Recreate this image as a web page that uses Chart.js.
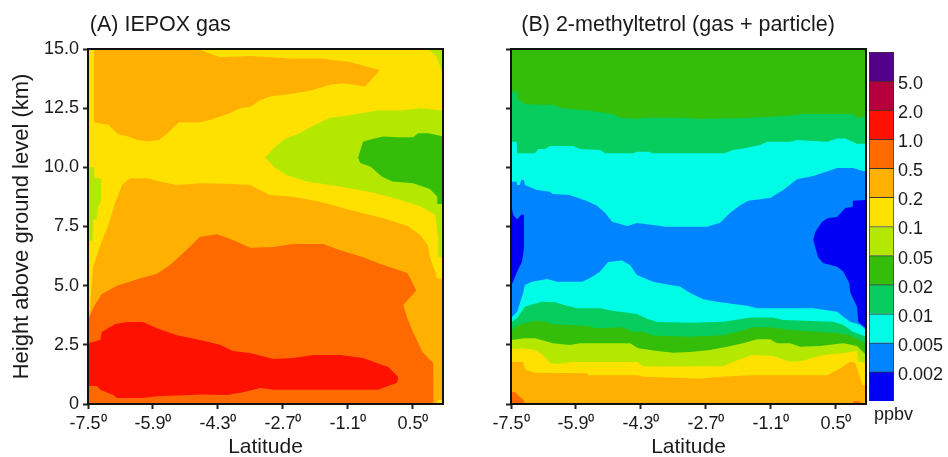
<!DOCTYPE html>
<html>
<head>
<meta charset="utf-8">
<script src="https://cdn.jsdelivr.net/npm/chart.js@4"></script>
<style>
  html, body { margin: 0; background: #fff; overflow: hidden; }
  canvas { position: absolute; top: 0; }
</style>
</head>
<body>
<canvas id="panel-a" width="470" height="460" style="left:0"></canvas>
<canvas id="panel-b" width="400" height="460" style="left:470px"></canvas>
<canvas id="color-bar" width="88" height="457" style="left:860px"></canvas>
<script>
// colour levels, bottom of the bar first
const levelLabels = ['0.002', '0.005', '0.01', '0.02', '0.05', '0.1', '0.2', '0.5', '1.0', '2.0', '5.0'];
const levelColors = ['#0000f5', '#0084ff', '#00fbe7', '#07cd5e', '#34be0a', '#b4e800', '#ffe100', '#ffb000', '#ff6a00', '#ff1100', '#b5003d', '#53008a'];
const [DBLUE, BLUE, CYAN, TEAL, GREEN, LIME, YELLOW, LORANGE, ORANGE, RED] = levelColors;

const latTicks = [-7.5, -5.9, -4.3, -2.7, -1.1, 0.5];
const heightTicks = [0, 2.5, 5, 7.5, 10, 12.5, 15];
const LAT_MIN = -7.5, LAT_MAX = 1.24;

// each curve is [latitude, height km]
const floorA = [[-7.5, 0], [1.24, 0]];
const ceilA = [[-7.5, 15], [1.24, 15]];

// (A) IEPOX gas
const topLobeUp = [[-7.35,15],[-4.79,15],[-4.25,14.65],[-3.51,14.7],[-2.52,14.6],[-1.79,14.6],[-1.05,14.45],[-0.31,14.1]];
const topLobeLow = [[-7.35,11.9],[-7,11.8],[-6.76,11.4],[-6.51,11.3],[-6.27,11.15],[-6,11.1],[-5.75,11.15],[-5.5,11.5],[-5.26,11.9],[-4.74,11.9],[-4.5,12],[-4.25,12.15],[-4,12.3],[-3.76,12.5],[-3.51,12.55],[-3.26,12.85],[-2.99,13],[-2.5,13.1],[-2.01,13.25],[-1.51,13.5],[-1.24,13.55],[-0.99,13.5],[-0.68,13.4],[-0.5,13.75],[-0.31,14.1]];
const cornerLimeUp = [[0.85,15],[1.24,15]];
const cornerLimeLow = [[0.85,15],[1.02,14.8],[1.1,14.6],[1.2,14.1],[1.24,14]];
const limeLobeUp = [[-3.14,10.4],[-2.89,10.87],[-2.65,11.2],[-2.28,11.45],[-1.91,11.8],[-1.54,12.1],[-1.05,12.2],[-0.38,12.4],[0.18,12.4],[0.68,12.5],[1.24,12.4]];
const limeLobeLow = [[-3.14,10.4],[-2.89,9.97],[-2.6,9.67],[-2.11,9.4],[-1.54,9.25],[-1.05,9.12],[-0.48,8.93],[0.11,8.66],[0.68,8.36],[0.92,8.12],[1.05,8],[1.12,7],[1.13,6.2],[1.24,6.2]];
const greenLobeUp = [[-0.85,10.4],[-0.73,11.08],[-0.5,11.2],[-0.23,11.3],[0.14,11.27],[0.5,11.27],[0.63,11.44],[0.87,11.44],[1.17,11.33],[1.24,11.3]];
const greenLobeLow = [[-0.85,10.4],[-0.8,10.18],[-0.55,10.03],[-0.26,9.6],[-0.01,9.4],[0.5,9.33],[0.92,9.08],[1.1,8.76],[1.11,8.45],[1.24,8.45]];
const leftLimeUp = [[-7.5,10],[-7.35,10],[-7.34,9.54],[-7.18,9.54]];
const leftLimeLow = [[-7.5,6.9],[-7.38,6.9],[-7.37,7.8],[-7.28,7.8],[-7.27,8.2],[-7.18,8.6]];
const midOrangeUp = [[-7.5,3.55],[-7.45,4],[-7.38,5.75],[-7.2,6.7],[-7,7.56],[-6.83,8.5],[-6.66,9.25],[-6.47,9.54],[-6.05,9.54],[-5.73,9.4],[-5.31,9.25],[-4.74,9.33],[-3.93,9.3],[-3.51,9.25],[-3.02,8.83],[-2.45,8.76],[-1.79,8.55],[-1.05,8.2],[-0.23,7.85],[0.36,7.53],[0.68,7.14],[0.87,6.7],[0.92,6.2],[1,5.8],[1.1,5.3],[1.24,5.3]];
const deepOrangeUp = [[-7.5,3.55],[-7.38,4.05],[-7.25,4.4],[-7.16,4.65],[-6.79,5],[-6.22,5.3],[-5.8,5.5],[-5.48,5.87],[-5.16,6.37],[-4.74,7.07],[-4.32,7.17],[-3.93,6.93],[-3.51,6.6],[-2.94,6.63],[-2.45,6.76],[-1.71,6.76],[-1.29,6.5],[-0.73,6.2],[-0.23,5.87],[0.36,5.53],[0.48,5.15],[0.58,4.8],[0.585,2.75],[0.73,2.2],[1,1.73],[1.01,0.17]];
const deepOrangeLow = [[-7.5,0],[1.01,0]];
const notchUp = [[0.26,4.18],[0.58,4.8],[0.62,4.8]];
const notchLow = [[0.26,4.18],[0.36,3.63],[0.5,3.04],[0.585,2.75],[0.62,2.75]];
const redLobeUp = [[-7.5,2.57],[-7.2,2.7],[-7.16,3.04],[-6.83,3.38],[-6.54,3.46],[-6.15,3.46],[-5.8,3.2],[-5.31,2.9],[-4.74,2.7],[-4.25,2.5],[-3.93,2.24],[-3.51,2.15],[-2.94,1.9],[-2.45,1.94],[-1.96,2.07],[-1.29,2.07],[-0.73,1.94],[-0.11,1.56],[0.14,1.14]];
const redLobeLow = [[-7.5,0.76],[-7.28,0.76],[-7.2,0.6],[-6.88,0.38],[-6.79,0.25],[-6.15,0.25],[-5.8,0.33],[-4.67,0.4],[-4.08,0.38],[-3.68,0.5],[-3.26,0.68],[-2.94,0.6],[-0.36,0.6],[0.11,0.9],[0.14,1.14]];
const cornerYellowUp = [[1.1,0.17],[1.24,0.17]];
const cornerYellowLow = [[1.1,0],[1.24,0]];

// (B) 2-methyltetrol, upper edge of each band
const tealUp = [[-7.5,13.2],[-7.35,13.2],[-7.33,12.88],[-7.16,12.67],[-6.47,12.63],[-6.22,12.5],[-5.55,12.39],[-4.99,12.25],[-4.82,12.1],[-4.4,12.04],[-4.25,12.1],[-3.26,12.1],[-2.84,12.04],[-1.79,12.08],[-0.7,12.17],[-0.31,12.25],[0.92,12.25],[1.02,12.08],[1.24,12.17]];
const cyanUp = [[-7.5,11.08],[-7.36,11.08],[-7.35,10.6],[-6.91,10.6],[-6.83,10.77],[-6.66,10.77],[-6.54,10.9],[-5.97,10.9],[-5.8,10.77],[-5.31,10.73],[-5.18,10.6],[-4.5,10.6],[-4.4,10.66],[-4.08,10.66],[-4.03,10.6],[-2.25,10.6],[-2.03,10.73],[-1.79,10.8],[-1.37,10.94],[-1.19,11.08],[-0.63,11.08],[-0.46,11.15],[0.28,11.08],[0.53,11.22],[0.73,11.22],[1.02,11],[1.24,11]];
const blueUp = [[-7.5,9.39],[-7.36,9.39],[-7.35,9.25],[-7.28,9.25],[-7.25,9.46],[-7.18,9.46],[-7.16,9.25],[-6.86,9.04],[-6.54,8.97],[-6.47,8.87],[-6.05,8.83],[-5.63,8.58],[-5.38,8.38],[-5.18,8.07],[-5.01,7.7],[-4.64,7.52],[-4.4,7.65],[-4,7.56],[-3.71,7.49],[-2.67,7.49],[-2.35,7.66],[-2.11,8.07],[-1.86,8.4],[-1.66,8.59],[-1.12,8.7],[-0.8,9.04],[-0.46,9.5],[-0.06,9.63],[0.53,9.97],[0.92,9.97],[1.24,9.81]];
const leftDeepUp = [[-7.5,8.49],[-7.45,8],[-7.35,7.8],[-7.25,8],[-7.18,8]];
const leftDeepLow = [[-7.5,5],[-7.45,5.17],[-7.33,5.66],[-7.23,6],[-7.18,6.6]];
const rightDeepUp = [[-0.06,6.93],[-0.01,7.27],[0.16,7.7],[0.31,7.86],[0.53,7.9],[0.73,8.28],[0.91,8.32],[0.92,8.59],[1.24,8.62]];
const rightDeepLow = [[-0.06,6.93],[0.06,6.2],[0.18,5.96],[0.53,5.8],[0.68,5.6],[0.83,5.1],[0.85,4.73],[1.02,4.1],[1.05,3.47],[1.24,3.2]];
const lowCyanUp = [[-7.5,3.63],[-7.35,3.9],[-7.28,4.26],[-7.2,4.69],[-7.16,5.03],[-6.98,5.17],[-6.61,5.28],[-6.37,5.17],[-5.75,5.17],[-5.55,5.32],[-5.31,5.59],[-5.11,6],[-4.77,6.06],[-4.57,5.87],[-4.4,5.45],[-4,5.17],[-3.58,5.03],[-3.34,4.96],[-3.09,4.69],[-2.77,4.43],[-2.43,4.32],[-1.69,4.15],[-1.44,4.05],[-0.06,4.05],[0.53,3.9],[0.68,3.69],[0.85,3.48],[1.1,3.34],[1.24,3.13]];
const lowTealUp = [[-7.5,3.43],[-7.35,3.63],[-7.28,3.8],[-7.16,4.11],[-6.96,4.22],[-6.74,4.32],[-6.42,4.3],[-6.12,4.15],[-5.87,4.05],[-5.31,4.05],[-5.01,3.94],[-4.4,3.8],[-4.13,3.59],[-3.9,3.46],[-3.09,3.43],[-2.28,3.48],[-1.98,3.55],[-1.61,3.66],[-1.05,3.66],[-0.8,3.55],[0.43,3.48],[0.68,3.34],[0.92,3.05],[1.24,2.84]];
const lowGreenUp = [[-7.5,3.1],[-7.35,3.31],[-7.2,3.4],[-6.91,3.52],[-6.66,3.48],[-6.47,3.37],[-5.63,3.31],[-5.38,3.2],[-4.74,3.24],[-4.52,3.05],[-4.25,3.05],[-4,2.89],[-3.09,2.84],[-2.28,2.9],[-1.93,3.05],[-1.54,3.24],[-1.12,3.24],[-0.63,3.13],[0.53,3],[0.85,2.9],[1.17,2.63],[1.24,2.55]];
const lowLimeUp = [[-7.5,2.7],[-7.16,2.78],[-6.91,2.78],[-6.66,2.66],[-6.47,2.57],[-6.05,2.49],[-5.8,2.57],[-4.57,2.57],[-4.37,2.36],[-3.9,2.24],[-3.51,2.17],[-3.09,2.2],[-2.6,2.28],[-2.18,2.42],[-1.79,2.57],[-1.44,2.74],[-1.12,2.74],[-0.95,2.57],[-0.63,2.57],[-0.38,2.42],[0.11,2.45],[0.68,2.57],[1.02,2.45],[1.24,2.07]];
const yellowUp = [[-7.5,2.32],[-7.2,2.34],[-6.91,2.28],[-6.71,2.07],[-6.54,1.74],[-6.34,1.69],[-6,1.77],[-4.4,1.77],[-4.25,1.6],[-3.88,1.58],[-2.28,1.6],[-1.91,1.86],[-1.56,2.07],[-1.05,2.03],[-0.63,1.79],[-0.31,1.83],[0.18,2.07],[0.78,2.17],[1.02,2.25],[1.05,1.79],[1.24,1.73]];
const lightOrangeUp = [[-7.5,1.79],[-7.2,1.77],[-7.16,1.46],[-6.91,1.32],[-5.63,1.3],[-5.6,1.22],[-4.37,1.22],[-4.25,1.15],[-2.84,1.08],[-2.28,1.15],[-1.61,1.22],[0.28,1.22],[0.6,1.5],[0.85,1.79],[0.97,1.75],[1.1,1.08],[1.15,0.8],[1.24,0.8]];
const leftOrangeUp = [[-7.5,0.52],[-7.4,0.5],[-7.28,0.3],[-7.18,0.15],[-7.17,0]];
const leftOrangeLow = [[-7.5,0],[-7.17,0]];
const rightOrangeUp = [[0.92,0.12],[1.1,0.12]];
const rightOrangeLow = [[0.92,0],[1.1,0]];

// painted in this order, later ones cover earlier ones
const layersA = [
  [ceilA, floorA, YELLOW],
  [topLobeUp, topLobeLow, LORANGE],
  [cornerLimeUp, cornerLimeLow, LIME],
  [limeLobeUp, limeLobeLow, LIME],
  [greenLobeUp, greenLobeLow, GREEN],
  [leftLimeUp, leftLimeLow, LIME],
  [midOrangeUp, floorA, LORANGE],
  [deepOrangeUp, deepOrangeLow, ORANGE],
  [notchUp, notchLow, LORANGE],
  [redLobeUp, redLobeLow, RED],
  [cornerYellowUp, cornerYellowLow, YELLOW]
];
const layersB = [
  [ceilA, floorA, GREEN],
  [tealUp, floorA, TEAL],
  [cyanUp, floorA, CYAN],
  [blueUp, floorA, BLUE],
  [leftDeepUp, leftDeepLow, DBLUE],
  [rightDeepUp, rightDeepLow, DBLUE],
  [lowCyanUp, floorA, CYAN],
  [lowTealUp, floorA, TEAL],
  [lowGreenUp, floorA, GREEN],
  [lowLimeUp, floorA, LIME],
  [yellowUp, floorA, YELLOW],
  [lightOrangeUp, floorA, LORANGE],
  [leftOrangeUp, leftOrangeLow, ORANGE],
  [rightOrangeUp, rightOrangeLow, ORANGE]
];

const TEXT = '#1a1a1a';
const FONT = 'Liberation Sans';
const toPoints = c => c.map(p => ({x: p[0], y: p[1]}));

function buildDatasets(layers) {
  const out = [];
  layers.forEach((l, i) => {
    // chart.js draws high order first, so the last layer gets the lowest
    const order = layers.length - i;
    out.push({data: toPoints(l[0]), fill: '+1', backgroundColor: l[2], borderWidth: 0, pointRadius: 0, order});
    out.push({data: toPoints(l[1]), fill: false, borderWidth: 0, pointRadius: 0, order});
  });
  return out;
}

const frame = {
  id: 'frame',
  afterDraw(chart) {
    const {left, top, width, height} = chart.chartArea;
    const ctx = chart.ctx;
    ctx.save();
    ctx.strokeStyle = '#111';
    ctx.lineWidth = 2;
    ctx.strokeRect(left, top, width, height);
    ctx.restore();
  }
};

function panel(id, layers, titleText, yWidth, rightPad, showY) {
  return new Chart(document.getElementById(id), {
    type: 'line',
    data: {datasets: buildDatasets(layers)},
    plugins: [frame],
    options: {
      responsive: false,
      animation: false,
      layout: {padding: {right: rightPad}},
      plugins: {
        legend: {display: false},
        tooltip: {enabled: false},
        title: {
          display: true, text: titleText, align: 'start', fullSize: false, color: TEXT,
          font: {family: FONT, size: 21.5, weight: 'normal'},
          padding: {top: 12.5, bottom: 10.7}
        }
      },
      scales: {
        x: {
          type: 'linear', min: LAT_MIN, max: LAT_MAX,
          afterBuildTicks: s => { s.ticks = latTicks.map(value => ({value})); },
          afterFit: s => { s.height = 56; },
          border: {display: false},
          grid: {drawOnChartArea: false, tickLength: 5, tickColor: '#222', tickWidth: 2},
          ticks: {
            autoSkip: false, maxRotation: 0, padding: 4, color: TEXT,
            font: {family: FONT, size: 18},
            callback: v => v.toFixed(1) + '\u2070'
          },
          title: {display: true, text: 'Latitude', color: TEXT, font: {family: FONT, size: 21}, padding: 0}
        },
        y: {
          min: 0, max: 15,
          afterBuildTicks: s => { s.ticks = heightTicks.map(value => ({value})); },
          afterFit: s => { s.width = yWidth; },
          border: {display: false},
          grid: {drawOnChartArea: false, tickLength: 5, tickColor: '#222', tickWidth: 2},
          ticks: {
            padding: 4, color: TEXT,
            font: {family: FONT, size: 18},
            callback: v => showY ? (v === 0 ? '0' : v.toFixed(1)) : ''
          },
          title: {
            display: showY, text: 'Height above ground level (km)', color: TEXT,
            font: {family: FONT, size: 22}, padding: {top: 9, bottom: 0}
          }
        }
      }
    }
  });
}

panel('panel-a', layersA, '\u200A(A) IEPOX gas', 88, 27, true);
panel('panel-b', layersB, ' \u2009(B) 2-methyltetrol (gas + particle)', 41, 4, false);

new Chart(document.getElementById('color-bar'), {
  type: 'bar',
  data: {
    labels: [''],
    datasets: levelColors.map(c => ({
      data: [1], backgroundColor: c, borderColor: '#333', borderWidth: 1,
      barPercentage: 1, categoryPercentage: 1
    }))
  },
  options: {
    responsive: false,
    animation: false,
    layout: {padding: {top: 52, left: 9}},
    plugins: {
      legend: {display: false},
      tooltip: {enabled: false},
      title: {
        display: true, position: 'bottom', align: 'start', text: ' ppbv', color: TEXT,
        font: {family: FONT, size: 18, weight: 'normal'},
        padding: {top: 3, bottom: 31.4}
      }
    },
    scales: {
      x: {
        stacked: true,
        display: false
      },
      y: {
        stacked: true, position: 'right', min: 0, max: 12,
        afterFit: s => { s.width = 54; },
        border: {display: false},
        grid: {display: false, drawTicks: false},
        ticks: {
          stepSize: 1, padding: 4, color: TEXT, autoSkip: false, labelOffset: 3,
          font: {family: FONT, size: 18},
          callback: v => levelLabels[v - 1] || ''
        }
      }
    }
  }
});
</script>
</body>
</html>
